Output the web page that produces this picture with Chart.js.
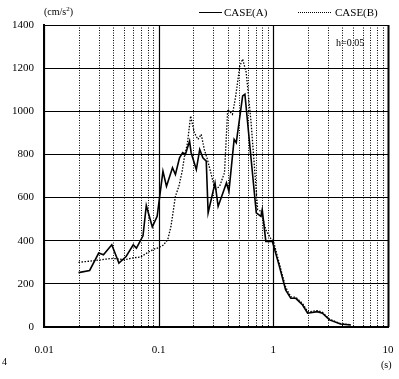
<!DOCTYPE html>
<html lang="en">
<head>
<meta charset="UTF-8">
<title>Acceleration response spectrum</title>
<script src="https://cdn.jsdelivr.net/npm/chart.js"></script>
<style>
  html, body { margin: 0; padding: 0; background: #fff; }
  #wrap { position: relative; width: 399px; height: 379px; font-family: "Liberation Serif", serif; color: #000; }
  #chart { position: absolute; left: 0; top: 0; }
  .lbl { position: absolute; font-size: 10px; line-height: 12px; white-space: nowrap; }
  .lbl sup { font-size: 7px; line-height: 0; }
  .key { position: absolute; height: 0; }
</style>
</head>
<body>
<div id="wrap">
  <canvas id="chart" width="399" height="379"></canvas>
  <div class="lbl" style="left:44px;top:6px">(cm/s<sup>2</sup>)</div>
  <div class="key" style="left:199px;top:12px;width:23px;border-top:1.5px solid #000"></div>
  <div class="lbl" style="left:224px;top:6px;font-size:11px">CASE(A)</div>
  <div class="key" style="left:298px;top:12px;width:33px;border-top:1.5px dotted #000"></div>
  <div class="lbl" style="left:335px;top:6px;font-size:11px">CASE(B)</div>
  <div class="lbl" style="left:336px;top:37px">h=0.05</div>
  <div class="lbl" style="left:381px;top:359px">(s)</div>
  <div class="lbl" style="left:2px;top:356px">4</div>
</div>
<script>
    // Period (s) and response acceleration (cm/s2)
    const periodA = [0.02, 0.025, 0.03, 0.033, 0.039, 0.045, 0.052, 0.06, 0.064, 0.073,
        0.078, 0.088, 0.097, 0.109, 0.117, 0.132, 0.14, 0.152, 0.162, 0.171,
        0.186, 0.192, 0.213, 0.228, 0.243, 0.26, 0.27, 0.31, 0.33, 0.39,
        0.41, 0.455, 0.475, 0.54, 0.565, 0.71, 0.78, 0.8, 0.86, 0.98,
        1.12, 1.28, 1.42, 1.57, 1.8, 1.99, 2.42, 2.68, 3.09, 3.85, 4.75];
    const accA = [252, 262, 343, 335, 381, 296, 327, 381, 366, 423,
        563, 464, 513, 722, 652, 738, 707, 784, 808, 800,
        862, 808, 730, 823, 784, 769, 529, 668, 559, 668,
        629, 870, 854, 1071, 1079, 529, 513, 544, 397, 397,
        288, 172, 133, 133, 102, 64, 71, 64, 33, 14, 9];

    const periodB = [0.02, 0.025, 0.03, 0.035, 0.04, 0.05, 0.06, 0.07, 0.08, 0.09,
        0.1, 0.11, 0.12, 0.128, 0.14, 0.15, 0.16, 0.168, 0.178, 0.19,
        0.205, 0.22, 0.235, 0.25, 0.265, 0.285, 0.31, 0.34, 0.375, 0.4,
        0.44, 0.47, 0.51, 0.54, 0.58, 0.64, 0.73, 0.78, 0.86, 0.95,
        1.0, 1.12, 1.28, 1.42, 1.57, 1.8, 2.0, 2.42, 2.68, 3.09, 3.85, 4.75];
    const accB = [300, 305, 310, 315, 318, 312, 320, 325, 345, 360,
        368, 380, 405, 466, 606, 652, 720, 792, 850, 978,
        900, 870, 893, 823, 780, 715, 637, 652, 715, 1009,
        986, 1071, 1210, 1242, 1180, 947, 544, 536, 450, 410,
        400, 300, 185, 140, 138, 108, 70, 76, 68, 36, 16, 10];

    const decades = [0.01, 0.1, 1, 10];
    const decadeLabels = ['0.01', '0.1', '1', '10'];
    const yTickStep = 200;

    // 1..9 x each decade, for the vertical grid
    const xGridValues = [];
    decades.forEach((d, i) => {
        const last = i === decades.length - 1 ? 1 : 9;
        for (let k = 1; k <= last; k++) xGridValues.push(+(d * k).toPrecision(3));
    });

    function toPoints(xs, ys) {
        return xs.map((x, i) => ({ x: x, y: ys[i] }));
    }

    // vertical grid: solid at decades, dotted elsewhere
    const logGrid = {
        id: 'logGrid',
        beforeDatasetsDraw(chart) {
            const ctx = chart.ctx;
            const xs = chart.scales.x;
            const area = chart.chartArea;
            ctx.save();
            ctx.strokeStyle = '#000';
            xGridValues.forEach(v => {
                const major = decades.includes(v);
                const px = Math.round(xs.getPixelForValue(v)) + 0.5;
                ctx.setLineDash(major ? [] : [1, 1.5]);
                ctx.lineWidth = major ? (v === 10 ? 2 : 1.2) : 1;
                ctx.beginPath();
                ctx.moveTo(px, area.top);
                ctx.lineTo(px, area.bottom);
                ctx.stroke();
            });
            ctx.restore();
        }
    };

    const tickFont = { family: '"Liberation Serif", serif', size: 11 };

    new Chart(document.getElementById('chart').getContext('2d'), {
        type: 'line',
        data: {
            datasets: [{
                label: 'CASE(A)',
                data: toPoints(periodA, accA),
                borderColor: '#000',
                borderWidth: 1.6,
                pointRadius: 0,
                tension: 0
            }, {
                label: 'CASE(B)',
                data: toPoints(periodB, accB),
                borderColor: '#000',
                borderWidth: 1.3,
                borderDash: [1.5, 1.5],
                pointRadius: 0,
                tension: 0
            }]
        },
        options: {
            responsive: false,
            animation: false,
            layout: { padding: { top: 25, right: 11, left: 0, bottom: 0 } },
            plugins: { legend: { display: false }, tooltip: { enabled: false } },
            scales: {
                x: {
                    type: 'logarithmic',
                    min: 0.01,
                    max: 10,
                    afterBuildTicks: s => {
                        s.ticks = xGridValues.map(v => ({ value: v, major: decades.includes(v) }));
                    },
                    afterFit: s => {
                        s.height = 52;
                        s.paddingLeft = 0;
                        s.paddingRight = 0;
                    },
                    grid: { display: false },
                    border: { display: true, color: '#000', width: 2 },
                    ticks: {
                        autoSkip: false,
                        maxRotation: 0,
                        padding: 9,
                        color: '#000',
                        font: tickFont,
                        callback: v => {
                            const i = decades.findIndex(d => Math.abs(d - v) / d < 1e-6);
                            return i >= 0 ? decadeLabels[i] : '';
                        }
                    }
                },
                y: {
                    min: 0,
                    max: 1400,
                    afterFit: s => { s.width = 44; },
                    grid: { color: '#000', lineWidth: 1, drawTicks: false },
                    border: { display: true, color: '#000', width: 2 },
                    ticks: {
                        stepSize: yTickStep,
                        padding: 10,
                        color: '#000',
                        font: tickFont,
                        callback: v => String(v)
                    }
                }
            }
        },
        plugins: [logGrid]
    });
</script>
</body>
</html>
